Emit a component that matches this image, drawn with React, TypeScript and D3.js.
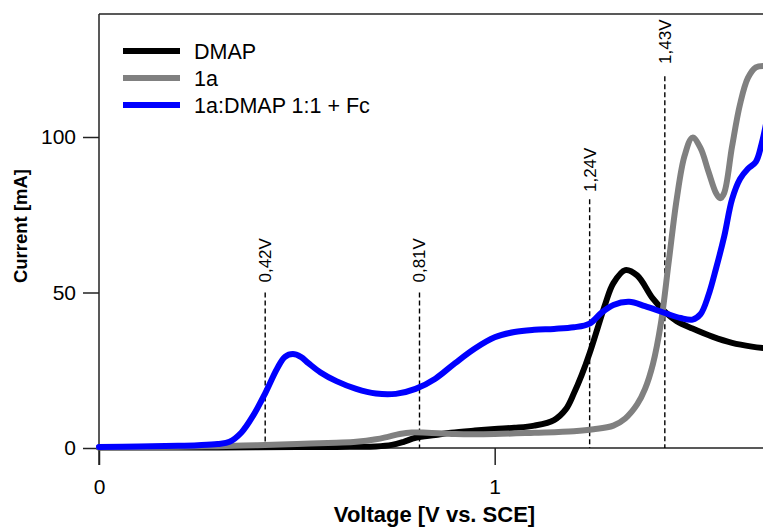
import React, { useEffect, useRef } from 'react';
import * as d3 from 'd3';

// voltage grid / current values (mA)
const dmapV = [0, 0.1, 0.2, 0.3, 0.4, 0.5, 0.6, 0.65, 0.7, 0.74, 0.77, 0.8, 0.85, 0.89, 0.95, 1.0, 1.05, 1.1, 1.15, 1.18, 1.2, 1.22, 1.24, 1.26, 1.28, 1.3, 1.33, 1.36, 1.4, 1.43, 1.46, 1.5, 1.55, 1.6, 1.65, 1.69];
const dmapI = [0.2, 0.2, 0.2, 0.2, 0.25, 0.3, 0.35, 0.4, 0.5, 1.0, 2.0, 3.3, 4.2, 4.9, 5.6, 6.1, 6.5, 7.2, 9.0, 12.5, 17.5, 23.5, 30.5, 38.5, 46.5, 53, 57.2, 55.5, 48, 43.8, 40.8, 38.4, 35.8, 33.8, 32.6, 32];

const oneaV = [0, 0.2, 0.3, 0.4, 0.5, 0.6, 0.65, 0.7, 0.73, 0.76, 0.79, 0.83, 0.9, 1.0, 1.1, 1.2, 1.25, 1.3, 1.33, 1.36, 1.38, 1.4, 1.42, 1.44, 1.46, 1.48, 1.5, 1.52, 1.54, 1.56, 1.57, 1.58, 1.6, 1.62, 1.64, 1.66, 1.69];
const oneaI = [0.2, 0.4, 0.6, 0.9, 1.3, 1.7, 2.0, 2.8, 3.6, 4.5, 5.0, 4.9, 4.5, 4.5, 4.9, 5.4, 6.0, 7.2, 9.5, 14, 19, 27, 40, 60, 80, 94, 99.8, 96.5, 89, 81.8, 80.3, 82, 97, 110.5, 119, 122.4, 122.8];

const mixV = [0, 0.1, 0.2, 0.25, 0.3, 0.33, 0.36, 0.39, 0.42, 0.45, 0.47, 0.49, 0.51, 0.53, 0.56, 0.6, 0.65, 0.7, 0.75, 0.8, 0.85, 0.9, 0.95, 1.0, 1.05, 1.1, 1.15, 1.2, 1.24, 1.27, 1.3, 1.34, 1.38, 1.43, 1.47, 1.5, 1.52, 1.54, 1.56, 1.58, 1.6, 1.62, 1.64, 1.66, 1.675, 1.69];
const mixI = [0.3, 0.5, 0.7, 0.9, 1.3, 2.0, 5.0, 10.5, 17.6, 25.5, 29.3, 30.2, 29.3, 27.2, 24.3, 21.5, 19, 17.5, 17.4, 19, 22.3, 27.3, 32, 35.6, 37.3, 38, 38.3, 38.8, 40, 43.5, 46, 47, 45.6, 43.4, 41.8, 41.3, 43, 49, 58, 68, 80, 86.5, 89.8, 92, 98, 107];

const seriesNames = ['DMAP', '1a', '1a:DMAP 1:1 + Fc'];
const seriesColors = ['#000000', '#808080', '#0000ff'];

// dashed markers: voltage, line top (mA), label start (mA)
const markerV = [0.42, 0.81, 1.24, 1.43];
const markerTop = [50, 50, 80, 119.5];
const markerLabelAt = [53.2, 53.2, 82.3, 123.5];
const markerLabels = ['0,42V', '0,81V', '1,24V', '1,43V'];

const xMajor = [0, 1];
const xMinor = [0.2, 0.4, 0.6, 0.8, 1.2, 1.4, 1.6];
const yMajor = [0, 50, 100];
const yMinor = [25, 75, 125];

const W = 763;
const H = 529;

export default function App() {
  const ref = useRef<SVGSVGElement>(null);

  useEffect(() => {
    const svg = d3.select(ref.current);
    svg.selectAll('*').remove();

    const x = d3.scaleLinear().domain([0, 1.69]).range([99, 767.7]);
    const y = d3.scaleLinear().domain([0, 139.55]).range([448, 14]);
    const font = 'Arial, "Liberation Sans", sans-serif';
    const axisColor = '#222';

    // axes
    const gx = svg.append('g').attr('transform', `translate(0,${y(0)})`);
    gx.call(d3.axisBottom(x).tickValues(xMinor).tickSize(11).tickFormat(() => ''));
    gx.call(d3.axisBottom(x).tickValues(xMajor).tickSize(17).tickPadding(14).tickFormat(d3.format('d')));
    const gy = svg.append('g').attr('transform', `translate(${x(0)},0)`);
    gy.call(d3.axisLeft(y).tickValues(yMinor).tickSize(11).tickFormat(() => ''));
    gy.call(d3.axisLeft(y).tickValues(yMajor).tickSize(16).tickPadding(7).tickFormat(d3.format('d')));
    svg.selectAll('.domain').remove();
    svg.selectAll('.tick line').attr('stroke', axisColor).attr('stroke-width', 1.5);
    svg.selectAll('.tick text').attr('font-family', font).attr('font-size', 21).attr('fill', '#000');

    // frame
    svg.append('line').attr('x1', x(0)).attr('x2', x(0)).attr('y1', y.range()[1]).attr('y2', y(0) + 17)
      .attr('stroke', axisColor).attr('stroke-width', 1.5);
    svg.append('line').attr('x1', x(0)).attr('x2', W).attr('y1', y(0)).attr('y2', y(0))
      .attr('stroke', axisColor).attr('stroke-width', 1.5);
    svg.append('line').attr('x1', x(0)).attr('x2', W).attr('y1', y.range()[1]).attr('y2', y.range()[1])
      .attr('stroke', axisColor).attr('stroke-width', 1.5);

    // dashed markers
    markerV.forEach((v, i) => {
      svg.append('line').attr('x1', x(v)).attr('x2', x(v)).attr('y1', y(markerTop[i])).attr('y2', y(0))
        .attr('stroke', '#000').attr('stroke-width', 1.4).attr('stroke-dasharray', '5,3');
      svg.append('text')
        .attr('transform', `translate(${x(v)},${y(markerLabelAt[i])}) rotate(-90)`)
        .attr('dy', '0.35em')
        .attr('font-family', font).attr('font-size', 17)
        .text(markerLabels[i]);
    });

    // curves
    const line = d3.line<[number, number]>()
      .x(d => x(d[0])).y(d => y(d[1])).curve(d3.curveCatmullRom.alpha(0.5));
    const data = [
      d3.zip(dmapV, dmapI),
      d3.zip(oneaV, oneaI),
      d3.zip(mixV, mixI),
    ] as [number, number][][];
    data.forEach((pts, i) => {
      svg.append('path').attr('d', line(pts)).attr('fill', 'none')
        .attr('stroke', seriesColors[i]).attr('stroke-width', 6)
        .attr('stroke-linejoin', 'round').attr('stroke-linecap', 'round');
    });

    // legend
    seriesNames.forEach((name, i) => {
      const ly = 51 + i * 27;
      svg.append('line').attr('x1', 123).attr('x2', 180).attr('y1', ly).attr('y2', ly)
        .attr('stroke', seriesColors[i]).attr('stroke-width', 6);
      svg.append('text').attr('x', 194).attr('y', ly).attr('dy', '0.36em')
        .attr('font-family', font).attr('font-size', 21.5).text(name);
    });

    // axis titles
    svg.append('text').attr('x', 434.5).attr('y', 522)
      .attr('text-anchor', 'middle').attr('font-family', font).attr('font-weight', 'bold')
      .attr('font-size', 22).text('Voltage [V vs. SCE]');
    svg.append('text').attr('transform', `translate(27,226) rotate(-90)`)
      .attr('text-anchor', 'middle').attr('font-family', font).attr('font-weight', 'bold')
      .attr('font-size', 18.5).text('Current [mA]');
  }, []);

  return (
    <svg ref={ref} width={W} height={H}
      style={{ position: 'absolute', left: 0, top: 0, background: '#fff' }} />
  );
}
